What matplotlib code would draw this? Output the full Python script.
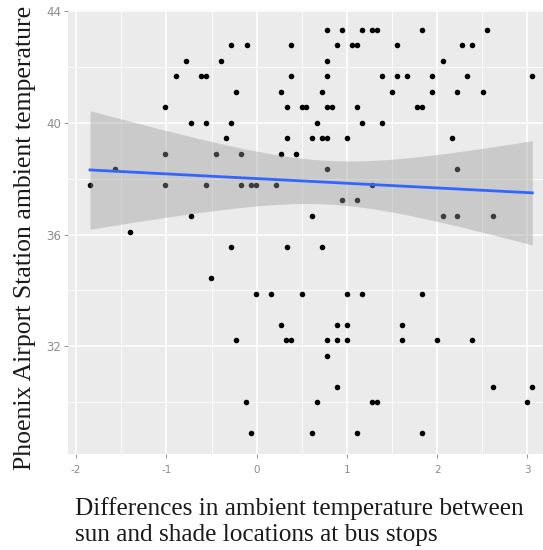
import numpy as np
import matplotlib
matplotlib.use("Agg")
import matplotlib.pyplot as plt

# Data: difference in ambient temperature (sun - shade) vs airport temperature
x_diff = [
    0.777, 0.943, 1.164, 1.282, 1.331, 1.829, 2.556,
    -0.284, -0.110, 0.381, 0.887, 1.054, 1.109, 1.552, 2.279, 2.390,
    -0.786, -0.398, 0.777, 2.062,
    -0.896, -0.616, -0.561, 0.381, 0.777, 1.386, 1.552, 1.663, 1.940, 2.334, 3.054,
    -0.228, 0.270, 0.721, 1.497, 1.940, 2.217, 2.505,
    -1.012, 0.333, 0.500, 0.547, 0.777, 0.832, 1.109, 1.774, 1.829,
    -0.727, -0.561, -0.284, 0.666, 1.164, 1.386,
    -0.339, 0.333, 0.610, 0.721, 0.777, 0.998, 2.168,
    -1.012, -0.450, -0.173, 0.270, 0.437,
    -1.565, 0.777, 2.217,
    -1.846, -1.012, -0.561, -0.173, -0.062, -0.007, 0.215, 1.275,
    0.943, 1.109,
    -0.727, 0.610, 2.062, 2.217, 2.616,
    -1.399,
    -0.284, 0.333, 0.721,
    -0.505,
    -0.007, 0.160, 0.500, 0.998, 1.164, 1.829,
    0.270, 0.887, 0.998, 1.608,
    -0.228, 0.326, 0.381, 0.777, 0.887, 0.998, 1.608, 2.002, 2.390,
    0.777,
    0.887, 2.616, 3.054,
    -0.117, 0.666, 1.275, 1.331, 2.992,
    -0.062, 0.610, 1.109, 1.832,
]
y_temp = (
    [43.33] * 7 + [42.78] * 9 + [42.22] * 4 + [41.67] * 11 + [41.11] * 7
    + [40.56] * 9 + [40.00] * 6 + [39.44] * 7 + [38.89] * 5 + [38.33] * 3
    + [37.78] * 8 + [37.22] * 2 + [36.67] * 5 + [36.11] * 1 + [35.56] * 3
    + [34.44] * 1 + [33.89] * 6 + [32.78] * 4 + [32.22] * 9 + [31.67] * 1
    + [30.56] * 3 + [30.00] * 5 + [28.89] * 4
)

x_ticks = [-2, -1, 0, 1, 2, 3]
y_ticks = [32, 36, 40, 44]
x_minor = [-2.5, -1.5, -0.5, 0.5, 1.5, 2.5, 3.5]
y_minor = [30, 34, 38, 42]
x_label = "Differences in ambient temperature between\nsun and shade locations at bus stops"
y_label = "Phoenix Airport Station ambient temperature"

x = np.array(x_diff)
y = np.array(y_temp)

# linear fit with 95% confidence band (like geom_smooth(method="lm"))
slope, intercept = np.polyfit(x, y, 1)
n = len(x)
resid = y - (slope * x + intercept)
s = np.sqrt(np.sum(resid ** 2) / (n - 2))
xs = np.linspace(x.min(), x.max(), 200)
ys = slope * xs + intercept
se = s * np.sqrt(1.0 / n + (xs - x.mean()) ** 2 / np.sum((x - x.mean()) ** 2))
t_crit = 1.98
lo, hi = ys - t_crit * se, ys + t_crit * se

W, H = 543, 550
fig = plt.figure(figsize=(W / 100, H / 100), dpi=100)
fig.patch.set_facecolor("white")
L, R, T, B = 67.9, 554.4, 9.5, 453.5
ax = fig.add_axes([L / W, 1 - B / H, (R - L) / W, (B - T) / H])
ax.set_facecolor("#EBEBEB")

ax.set_xticks(x_ticks)
ax.set_yticks(y_ticks)
ax.set_xticks(x_minor, minor=True)
ax.set_yticks(y_minor, minor=True)

rng = x.max() - x.min()
ax.set_xlim(x.min() - 0.05 * rng, x.max() + 0.05 * rng)
yr = y.max() - y.min()
ax.set_ylim(y.min() - 0.05 * yr, y.max() + 0.05 * yr)

ax.grid(which="major", color="white", linewidth=1.1)
ax.grid(which="minor", color="white", linewidth=0.6)
ax.set_axisbelow(True)
for sp in ax.spines.values():
    sp.set_visible(False)

ax.scatter(x, y, s=16, color="black", zorder=3, linewidths=0)
ax.fill_between(xs, lo, hi, color="#999999", alpha=0.4, linewidth=0, zorder=4)
ax.plot(xs, ys, color="#3366FF", linewidth=2.0, zorder=5)

tick_font = ["Liberation Sans Narrow", "DejaVu Sans"]
ax.tick_params(axis="both", which="major", colors="#9a9a9a", length=3, width=0.8,
               labelcolor="#8c8c8c")
ax.tick_params(axis="both", which="minor", length=0)
ax.set_xticklabels([str(v) for v in x_ticks], fontsize=7.5, family=tick_font)
ax.set_yticklabels([str(v) for v in y_ticks], fontsize=8.5, family=tick_font)
ax.tick_params(axis="x", pad=5)
ax.tick_params(axis="y", pad=2)

fig.text(25 / W, 1 - 238 / H, y_label, rotation=90, ha="center", va="center",
         fontsize=18.5, family="Liberation Serif", color="#1a1a1a")
fig.text(75 / W, 1 - 546 / H, x_label, ha="left", va="bottom", multialignment="left",
         fontsize=18.2, family="Liberation Serif", color="#1a1a1a", linespacing=1.25)

fig.savefig("out.png", dpi=100)
